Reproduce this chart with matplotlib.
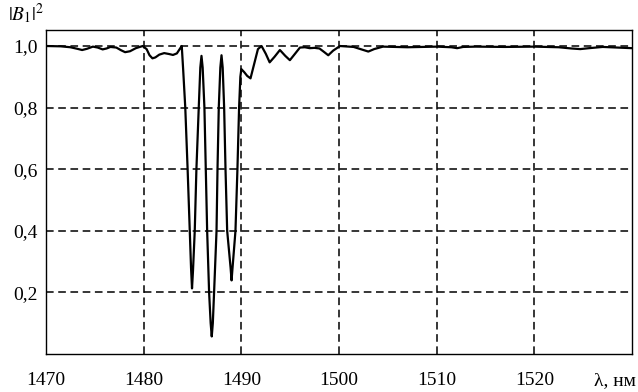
import matplotlib
matplotlib.use("Agg")
import matplotlib.pyplot as plt
import matplotlib.transforms as mtransforms

plt.rcParams['font.family'] = ['Liberation Serif', 'DejaVu Serif']
plt.rcParams['mathtext.fontset'] = 'stix'

# wavelength (nm) and |B1|^2
lam = [1470.0, 1471.5, 1472.5, 1473.2, 1473.7, 1474.2, 1474.8, 1475.3, 1475.8, 1476.2, 1476.6,
       1477.2, 1477.7, 1478.1, 1478.6, 1479.2, 1479.9,
       1480.3, 1480.6, 1480.9, 1481.2, 1481.6, 1482.1, 1482.6, 1483.0, 1483.4, 1483.75, 1483.9,
       1484.05, 1484.26, 1484.5, 1484.72, 1484.85, 1484.95, 1485.05, 1485.23, 1485.4, 1485.64,
       1485.8, 1485.92, 1486.04,
       1486.22, 1486.36, 1486.5, 1486.7, 1486.86, 1486.97, 1487.08, 1487.21, 1487.46, 1487.56,
       1487.69, 1487.85, 1487.97, 1488.09,
       1488.24, 1488.38, 1488.55, 1488.9, 1489.0, 1489.1, 1489.4, 1489.6, 1489.77, 1489.9, 1490.0,
       1490.3, 1490.6, 1490.94, 1491.3, 1491.7, 1492.07, 1492.5, 1492.9, 1493.4, 1493.95,
       1494.5, 1494.97, 1495.5, 1496.0, 1496.5, 1497.0, 1497.5, 1498.0, 1498.5, 1498.9, 1499.4,
       1500.1, 1501.5, 1502.4, 1503.0, 1503.6, 1504.5, 1507.0, 1510.0, 1511.5, 1512.1, 1512.7,
       1514.0, 1517.0, 1520.0, 1522.5, 1523.8, 1524.7, 1525.6, 1527.0, 1528.5, 1530.0]
b1 = [1.000, 0.999, 0.996, 0.991, 0.987, 0.991, 0.998, 0.995, 0.989, 0.992, 0.997,
      0.995, 0.986, 0.980, 0.983, 0.993, 1.000,
      0.990, 0.970, 0.960, 0.963, 0.972, 0.977, 0.974, 0.971, 0.976, 0.993, 1.000,
      0.92, 0.80, 0.60, 0.40, 0.28, 0.213, 0.27, 0.40, 0.60, 0.80,
      0.93, 0.968, 0.93,
      0.80, 0.60, 0.40, 0.20, 0.10, 0.057, 0.10, 0.20, 0.40, 0.60,
      0.80, 0.93, 0.970, 0.93,
      0.80, 0.60, 0.40, 0.28, 0.239, 0.28, 0.40, 0.60, 0.80, 0.90, 0.925,
      0.915, 0.903, 0.895, 0.940, 0.990, 1.000, 0.975, 0.947, 0.965, 0.987,
      0.968, 0.954, 0.975, 0.995, 0.996, 0.993, 0.994, 0.992, 0.980, 0.970, 0.985,
      1.000, 0.997, 0.988, 0.982, 0.990, 0.998, 0.996, 0.998, 0.996, 0.993, 0.997,
      0.998, 0.997, 0.998, 0.996, 0.992, 0.990, 0.993, 0.997, 0.995, 0.993]

xticks = [1470, 1480, 1490, 1500, 1510, 1520]
yticks = [0.2, 0.4, 0.6, 0.8, 1.0]
yticklabels = ['0,2', '0,4', '0,6', '0,8', '1,0']

fig = plt.figure(figsize=(6.38, 3.92), dpi=100)
ax = fig.add_axes([46 / 638, 1 - 354 / 392, (632 - 46) / 638, (354 - 30) / 392])

ax.plot(lam, b1, color='black', lw=1.6, zorder=3, solid_joinstyle='round')

ax.set_xlim(1470, 1530)
ax.set_ylim(0, 1.052)
ax.set_xticks(xticks)
ax.set_yticks(yticks)
ax.set_yticklabels(yticklabels)
ax.tick_params(length=0, labelsize=14, pad=13, axis='x')
ax.tick_params(length=0, labelsize=14, pad=6, axis='y')
ax.grid(True, color='black', ls=(0, (5, 3)), lw=1.1)
for s in ax.spines.values():
    s.set_linewidth(1.0)

trans = mtransforms.blended_transform_factory(ax.transAxes, ax.transAxes)
ax.text(1.007, -0.055, 'λ, нм', transform=trans, ha='right', va='top', fontsize=14)
fig.text(8 / 638, 1 - 14 / 392, r'$|B_1|^2$', ha='left', va='center', fontsize=14)

fig.savefig('out.png', dpi=100)
